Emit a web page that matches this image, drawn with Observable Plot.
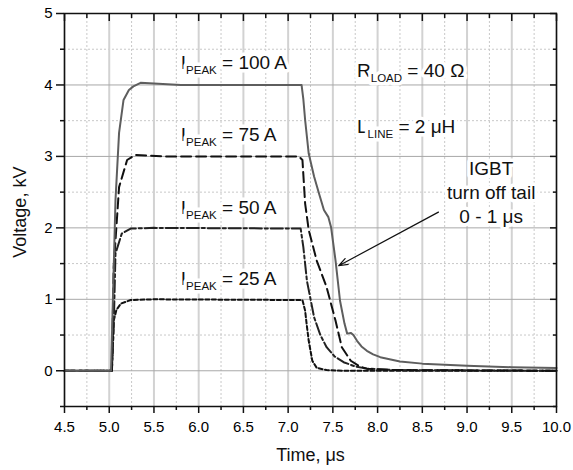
<!DOCTYPE html>
<html><head><meta charset="utf-8">
<script src="https://cdn.jsdelivr.net/npm/d3@7"></script>
<script src="https://cdn.jsdelivr.net/npm/@observablehq/plot@0.6"></script>
<style>
body{margin:0;background:#fff}
svg{font-family:"Liberation Sans",Arial,sans-serif}
</style>
</head><body><div id="chart"></div>
<script>
// ---- data (time in µs, voltage in kV) ----
const t100 = [4.5,5.02,5.07,5.11,5.16,5.22,5.27,5.35,5.5,5.8,6.5,7.15,7.17,7.19,7.23,7.29,7.35,7.40,7.45,7.48,7.53,7.58,7.63,7.66,7.70,7.73,7.77,7.82,7.88,7.95,8.03,8.25,8.5,9.0,9.5,10.0];
const v100 = [0,0,2.39,3.33,3.79,3.93,3.98,4.03,4.02,4.0,4.0,4.0,3.8,3.51,3.04,2.72,2.46,2.25,2.15,2.01,1.54,0.98,0.66,0.52,0.53,0.50,0.42,0.34,0.28,0.23,0.19,0.13,0.10,0.07,0.05,0.04];
const t75 = [4.5,5.03,5.05,5.11,5.20,5.29,5.6,7.12,7.16,7.19,7.23,7.32,7.43,7.53,7.60,7.70,7.80,7.88,8.2,10.0];
const v75 = [0,0,1.45,2.57,2.95,3.02,3.0,3.0,2.95,2.34,1.97,1.54,1.17,0.70,0.33,0.14,0.06,0.03,0.01,0];
const t50 = [4.5,5.03,5.05,5.07,5.14,5.24,5.5,7.14,7.17,7.21,7.29,7.36,7.43,7.52,7.62,7.75,7.88,8.2,10.0];
const v50 = [0,0,0.6,1.64,1.92,1.99,2.0,1.99,1.73,1.26,0.75,0.50,0.33,0.20,0.12,0.06,0.03,0.01,0];
const t25 = [4.5,5.03,5.05,5.08,5.13,5.24,5.5,7.16,7.19,7.21,7.23,7.27,7.32,7.43,7.6,10.0];
const v25 = [0,0,0.70,0.85,0.94,0.99,1.0,0.99,0.84,0.62,0.42,0.14,0.04,0.01,0,0];

const xMajor = [4.5,5.0,5.5,6.0,6.5,7.0,7.5,8.0,8.5,9.0,9.5,10.0];
const xMinor = [4.75,5.25,5.75,6.25,6.75,7.25,7.75,8.25,8.75,9.25,9.75];
const yMajor = [0,1,2,3,4,5];
const yMinor = [-0.5,0.5,1.5,2.5,3.5,4.5];

const peakLabels = ["I|PEAK| = 100 A","I|PEAK| = 75 A","I|PEAK| = 50 A","I|PEAK| = 25 A"];
const peakLabelT = [5.8,5.8,5.8,5.8];
const peakLabelV = [4.31,3.30,2.28,1.29];
const paramLabels = ["R|LOAD| = 40 Ω","L|LINE| = 2 μH"];
const paramLabelT = [7.77,7.77];
const paramLabelV = [4.20,3.41];
const tailNote = "IGBT\nturn off tail\n0 - 1 μs";
const tailNoteT = 9.27, tailNoteV = 2.51;
const arrowFrom = {t: 8.68, v: 2.22}, arrowTo = {t: 7.565, v: 1.47};
const xTitle = "Time, μs", yTitle = "Voltage, kV";

const toRows = (ts, vs) => ts.map((t, i) => ({t, v: vs[i]}));
const s100 = toRows(t100, v100), s75 = toRows(t75, v75), s50 = toRows(t50, v50), s25 = toRows(t25, v25);
const peakRows = peakLabels.map((s, i) => ({s, t: peakLabelT[i], v: peakLabelV[i]}));
const paramRows = paramLabels.map((s, i) => ({s, t: paramLabelT[i], v: paramLabelV[i]}));

const halo = {stroke: "white", strokeWidth: 7, paintOrder: "stroke", strokeLinejoin: "round", fill: "#111"};
const tk = {stroke: "#111", strokeWidth: 1.5, label: null};

const chart = Plot.plot({
  width: 573, height: 470,
  marginLeft: 64, marginRight: 17, marginTop: 13, marginBottom: 64,
  x: {domain: [4.5, 10]},
  y: {domain: [-0.5, 5]},
  style: {fontFamily: '"Liberation Sans", Arial, sans-serif', background: "white"},
  marks: [
    Plot.gridX(xMinor, {stroke: "#c8c8c8", strokeOpacity: 1, strokeWidth: 1, strokeDasharray: "2,2"}),
    Plot.gridY(yMinor, {stroke: "#c8c8c8", strokeOpacity: 1, strokeWidth: 1, strokeDasharray: "2,2"}),
    Plot.gridX(xMajor, {stroke: "#d2d2d2", strokeOpacity: 1, strokeWidth: 2}),
    Plot.gridY(yMajor, {stroke: "#a8a8a8", strokeOpacity: 1, strokeWidth: 1}),
    Plot.text(peakRows, {x: "t", y: "v", text: "s", textAnchor: "start", fontSize: 19, ...halo}),
    Plot.text(paramRows, {x: "t", y: "v", text: "s", textAnchor: "start", fontSize: 19, ...halo}),
    Plot.text([tailNote], {x: tailNoteT, y: tailNoteV, textAnchor: "middle", fontSize: 19, lineHeight: 1.27, ...halo}),
    Plot.line(s25, {x: "t", y: "v", stroke: "#111", strokeWidth: 2, strokeDasharray: "4,2.5"}),
    Plot.line(s50, {x: "t", y: "v", stroke: "#222", strokeWidth: 2, strokeDasharray: "12,3,3,3"}),
    Plot.line(s75, {x: "t", y: "v", stroke: "#111", strokeWidth: 2, strokeDasharray: "10,5"}),
    Plot.line(s100, {x: "t", y: "v", stroke: "#5e5e5e", strokeWidth: 2}),
    Plot.arrow([{}], {x1: arrowFrom.t, y1: arrowFrom.v, x2: arrowTo.t, y2: arrowTo.v, stroke: "#111", strokeWidth: 1.2, headLength: 12, headAngle: 40}),
    Plot.frame({stroke: "#111", strokeWidth: 1.5}),
    Plot.axisX(xMajor, {...tk, tickSize: 7, tickPadding: 8, fontSize: 15, tickFormat: d => d.toFixed(1)}),
    Plot.axisX(xMinor, {...tk, tickSize: 4, tickFormat: () => ""}),
    Plot.axisY(yMajor, {...tk, tickSize: 8, tickPadding: 4, fontSize: 15, tickFormat: d => String(d)}),
    Plot.axisY(yMinor, {...tk, tickSize: 4, tickFormat: () => ""}),
    Plot.axisX(xMajor, {...tk, anchor: "top", tickSize: -7, tickFormat: () => ""}),
    Plot.axisX(xMinor, {...tk, anchor: "top", tickSize: -4, tickFormat: () => ""}),
    Plot.axisY(yMajor, {...tk, anchor: "right", tickSize: -7, tickFormat: () => ""}),
    Plot.axisY(yMinor, {...tk, anchor: "right", tickSize: -4, tickFormat: () => ""}),
    Plot.text([xTitle], {x: 7.25, y: -0.5, dy: 49, fontSize: 18, fill: "#111"}),
    Plot.text([yTitle], {x: 4.5, y: 2.22, dx: -44, rotate: -90, fontSize: 18, fill: "#111"})
  ]
});

// subscripts: "A|SUB|B" -> A, subscript SUB, B
d3.select(chart).selectAll("text").each(function() {
  const s = this.textContent;
  if (!s.includes("|") || this.querySelector("tspan")) return;
  const [a, sub, b] = s.split("|");
  const el = d3.select(this);
  el.text(null);
  el.append("tspan").text(a);
  el.append("tspan").attr("font-size", 11.5).attr("dy", 5).text(sub);
  el.append("tspan").attr("dy", -5).text(b);
});

document.getElementById("chart").appendChild(chart);
</script>
</body></html>
